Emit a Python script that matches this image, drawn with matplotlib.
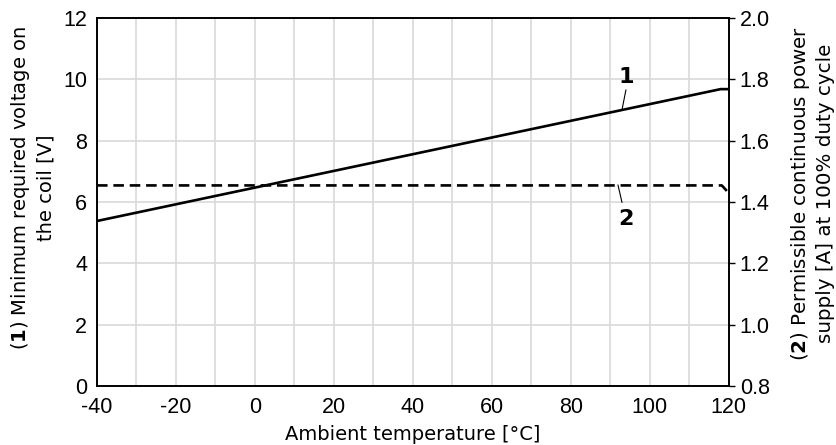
import matplotlib
matplotlib.use("Agg")
import matplotlib.pyplot as plt
from matplotlib.ticker import MultipleLocator, FormatStrFormatter

# curve 1: minimum required coil voltage [V]
temp_volt = [-40, 118, 120]
voltage = [5.38, 9.68, 9.68]

# curve 2: permissible continuous current [A]
temp_curr = [-40, 118.3, 120]
current = [1.454, 1.454, 1.43]

x_ticks = [-40, -20, 0, 20, 40, 60, 80, 100, 120]
left_ticks = [0, 2, 4, 6, 8, 10, 12]
right_ticks = [0.8, 1.0, 1.2, 1.4, 1.6, 1.8, 2.0]

plt.rcParams['mathtext.fontset'] = 'dejavusans'
plt.rcParams['axes.unicode_minus'] = False

fig = plt.figure(figsize=(8.37, 4.45), dpi=100)
ax = fig.add_axes([0.1159, 0.1326, 0.7545, 0.827])

tick_font = 'Liberation Sans'
grid_col = '#d9d9d9'

ax.set_xlim(-40, 120)
ax.set_ylim(0, 12)
ax.set_xticks(x_ticks)
ax.set_yticks(left_ticks)
ax.xaxis.set_minor_locator(MultipleLocator(10))
ax.grid(True, which='major', axis='y', color=grid_col, lw=1.2)
ax.grid(True, which='both', axis='x', color=grid_col, lw=1.2)
ax.tick_params(axis='x', which='both', length=0, pad=8, labelsize=15.5)
ax.tick_params(axis='y', length=0, pad=7, labelsize=15.5)
for lab in ax.get_xticklabels() + ax.get_yticklabels():
    lab.set_fontfamily(tick_font)
ax.set_axisbelow(True)

ax.plot(temp_volt, voltage, color='black', lw=1.9, solid_capstyle='butt', zorder=3)

ax2 = ax.twinx()
ax2.set_ylim(0.8, 2.0)
ax2.set_yticks(right_ticks)
ax2.yaxis.set_major_formatter(FormatStrFormatter('%.1f'))
ax2.tick_params(axis='y', direction='out', length=4, width=1, pad=4, labelsize=15.5)
for lab in ax2.get_yticklabels():
    lab.set_fontfamily(tick_font)
ax2.plot(temp_curr, current, color='black', lw=1.9, dashes=(4, 2.2), zorder=3)

for a in (ax, ax2):
    for sp in a.spines.values():
        sp.set_linewidth(1.2)
        sp.set_color('black')

# curve labels with leader lines
ax.plot([94.0, 93.0], [9.65, 9.0], color='black', lw=0.8)
ax.text(94.0, 10.07, '1', ha='center', va='center', fontsize=16,
        fontweight='bold', family='DejaVu Sans')
ax.plot([92.0, 93.0], [6.55, 5.99], color='black', lw=0.8)
ax.text(93.9, 5.43, '2', ha='center', va='center', fontsize=16,
        fontweight='bold', family='DejaVu Sans')

ax.set_xlabel('Ambient temperature [°C]', fontsize=14, family='DejaVu Sans', labelpad=5)
ax.set_ylabel('($\\mathbf{1}$) Minimum required voltage on\nthe coil [V]',
              fontsize=14, family='DejaVu Sans', linespacing=1.3)
ax.yaxis.set_label_coords(-0.066, 0.538)
ax2.set_ylabel('($\\mathbf{2}$) Permissible continuous power\nsupply [A] at 100% duty cycle',
               fontsize=14.3, family='DejaVu Sans', linespacing=1.3)
ax2.yaxis.set_label_coords(1.095, 0.524)

fig.savefig('out.png', dpi=100)
